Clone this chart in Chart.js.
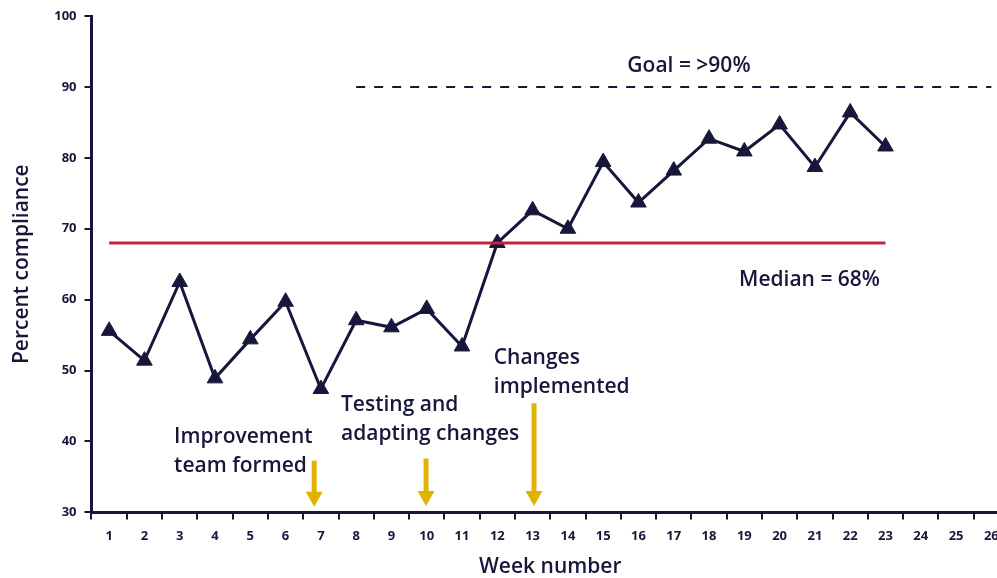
<!DOCTYPE html>
<html>
<head>
<meta charset="utf-8">
<script src="https://cdn.jsdelivr.net/npm/chart.js@4.4.1/dist/chart.umd.min.js"></script>
<style>
  html, body { margin: 0; padding: 0; background: #fff; overflow: hidden; }
  #wrap { width: 1019px; height: 578px; }
</style>
</head>
<body>
<div id="wrap"><canvas id="runChart" width="1019" height="578"></canvas></div>
<script>
// Week labels along the bottom
const weeks = ['1', '2', '3', '4', '5', '6', '7', '8', '9', '10', '11', '12', '13',
  '14', '15', '16', '17', '18', '19', '20', '21', '22', '23', '24', '25', '26'];

// Percent compliance per week
const compliance = [55.6, 51.4, 62.5, 48.9, 54.4, 59.7, 47.4, 57.1, 56.1, 58.7, 53.4, 68.0,
  72.6, 70.0, 79.4, 73.7, 78.2, 82.7, 80.9, 84.7, 78.7, 86.4, 81.6];

// Median line, weeks 1-23
const median = [68, 68, 68, 68, 68, 68, 68, 68, 68, 68, 68, 68,
  68, 68, 68, 68, 68, 68, 68, 68, 68, 68, 68];

// Goal line, from week 8 onwards
const goal = [null, null, null, null, null, null, null, 90, 90, 90, 90, 90, 90,
  90, 90, 90, 90, 90, 90, 90, 90, 90, 90, 90, 90, 90];

const yTicks = [30, 40, 50, 60, 70, 80, 90, 100];

// Text notes and arrows, placed in chart units (week index, percent)
const notes = [
  { lines: ['Goal = >90%'], at: 16.43, value: 92.9, align: 'center' },
  { lines: ['Median = 68%'], at: 17.85, value: 62.7, align: 'left' },
  { lines: ['Improvement', 'team formed'], at: 1.84, value: 40.6, align: 'left' },
  { lines: ['Testing and', 'adapting changes'], at: 6.57, value: 45.2, align: 'left' },
  { lines: ['Changes', 'implemented'], at: 10.9, value: 51.8, align: 'left' }
];
const arrows = [
  { at: 5.81, from: 37.3, to: 30.8 },
  { at: 8.98, from: 37.6, to: 30.9 },
  { at: 12.04, from: 45.4, to: 30.9 }
];

const NAVY = '#17173b';
const RED = '#c8213f';
const GOLD = '#e0b300';
const FONT = "'Open Sans', 'Noto Sans', sans-serif";

// draws the notes and the yellow arrows on top of the chart
const notesPlugin = {
  id: 'notes',
  afterDatasetsDraw(chart) {
    const ctx = chart.ctx;
    const x = chart.scales.x, y = chart.scales.y;
    ctx.save();
    ctx.fillStyle = NAVY;
    ctx.font = '600 21px ' + FONT;
    ctx.textBaseline = 'middle';
    notes.forEach(n => {
      ctx.textAlign = n.align;
      const px = x.getPixelForValue(n.at);
      const py = y.getPixelForValue(n.value);
      n.lines.forEach((line, i) => ctx.fillText(line, px, py + i * 29));
    });

    ctx.fillStyle = GOLD;
    arrows.forEach(a => {
      const px = x.getPixelForValue(a.at);
      const top = y.getPixelForValue(a.from);
      const tip = y.getPixelForValue(a.to);
      const head = 15;
      ctx.fillRect(px - 2.5, top, 5, tip - top - head + 1);
      ctx.beginPath();
      ctx.moveTo(px - 8.5, tip - head);
      ctx.lineTo(px + 8.5, tip - head);
      ctx.lineTo(px, tip);
      ctx.closePath();
      ctx.fill();
    });
    ctx.restore();
  }
};

new Chart(document.getElementById('runChart'), {
  type: 'line',
  data: {
    labels: weeks,
    datasets: [
      {
        label: 'Median',
        data: median,
        borderColor: RED,
        borderWidth: 3,
        pointRadius: 0,
        fill: false
      },
      {
        label: 'Percent compliance',
        data: compliance,
        borderColor: NAVY,
        borderWidth: 3,
        pointStyle: 'triangle',
        pointRadius: 9,
        pointBorderWidth: 1,
        pointBackgroundColor: NAVY,
        pointBorderColor: NAVY,
        tension: 0,
        fill: false
      },
      {
        label: 'Goal',
        data: goal,
        borderColor: NAVY,
        borderWidth: 2,
        borderDash: [9, 9],
        pointRadius: 0,
        fill: false
      }
    ]
  },
  options: {
    responsive: false,
    animation: false,
    layout: { padding: { top: 16, left: 9, right: 3, bottom: 0 } },
    plugins: {
      legend: { display: false },
      tooltip: { enabled: false }
    },
    scales: {
      x: {
        offset: true,
        grid: {
          offset: true,
          drawOnChartArea: false,
          drawTicks: true,
          tickLength: 7,
          tickColor: NAVY,
          lineWidth: 2
        },
        border: { color: NAVY, width: 3 },
        ticks: {
          color: NAVY,
          font: { family: FONT, size: 13, weight: 'bold' },
          padding: 9,
          maxRotation: 0,
          autoSkip: false
        },
        title: {
          display: true,
          text: 'Week number',
          color: NAVY,
          font: { family: FONT, size: 21, weight: '600', lineHeight: 1 },
          padding: { top: 4, bottom: 0 }
        }
      },
      y: {
        min: 30,
        max: 100,
        afterBuildTicks: axis => { axis.ticks = yTicks.map(v => ({ value: v })); },
        grid: {
          drawOnChartArea: false,
          drawTicks: true,
          tickLength: 7,
          tickColor: NAVY,
          lineWidth: 2
        },
        border: { color: NAVY, width: 3 },
        ticks: {
          color: NAVY,
          font: { family: FONT, size: 13, weight: 'bold' },
          padding: 8
        },
        title: {
          display: true,
          text: 'Percent compliance',
          color: NAVY,
          font: { family: FONT, size: 21, weight: '600' },
          padding: { top: 0, bottom: 12 }
        }
      }
    }
  },
  plugins: [notesPlugin]
});
</script>
</body>
</html>
